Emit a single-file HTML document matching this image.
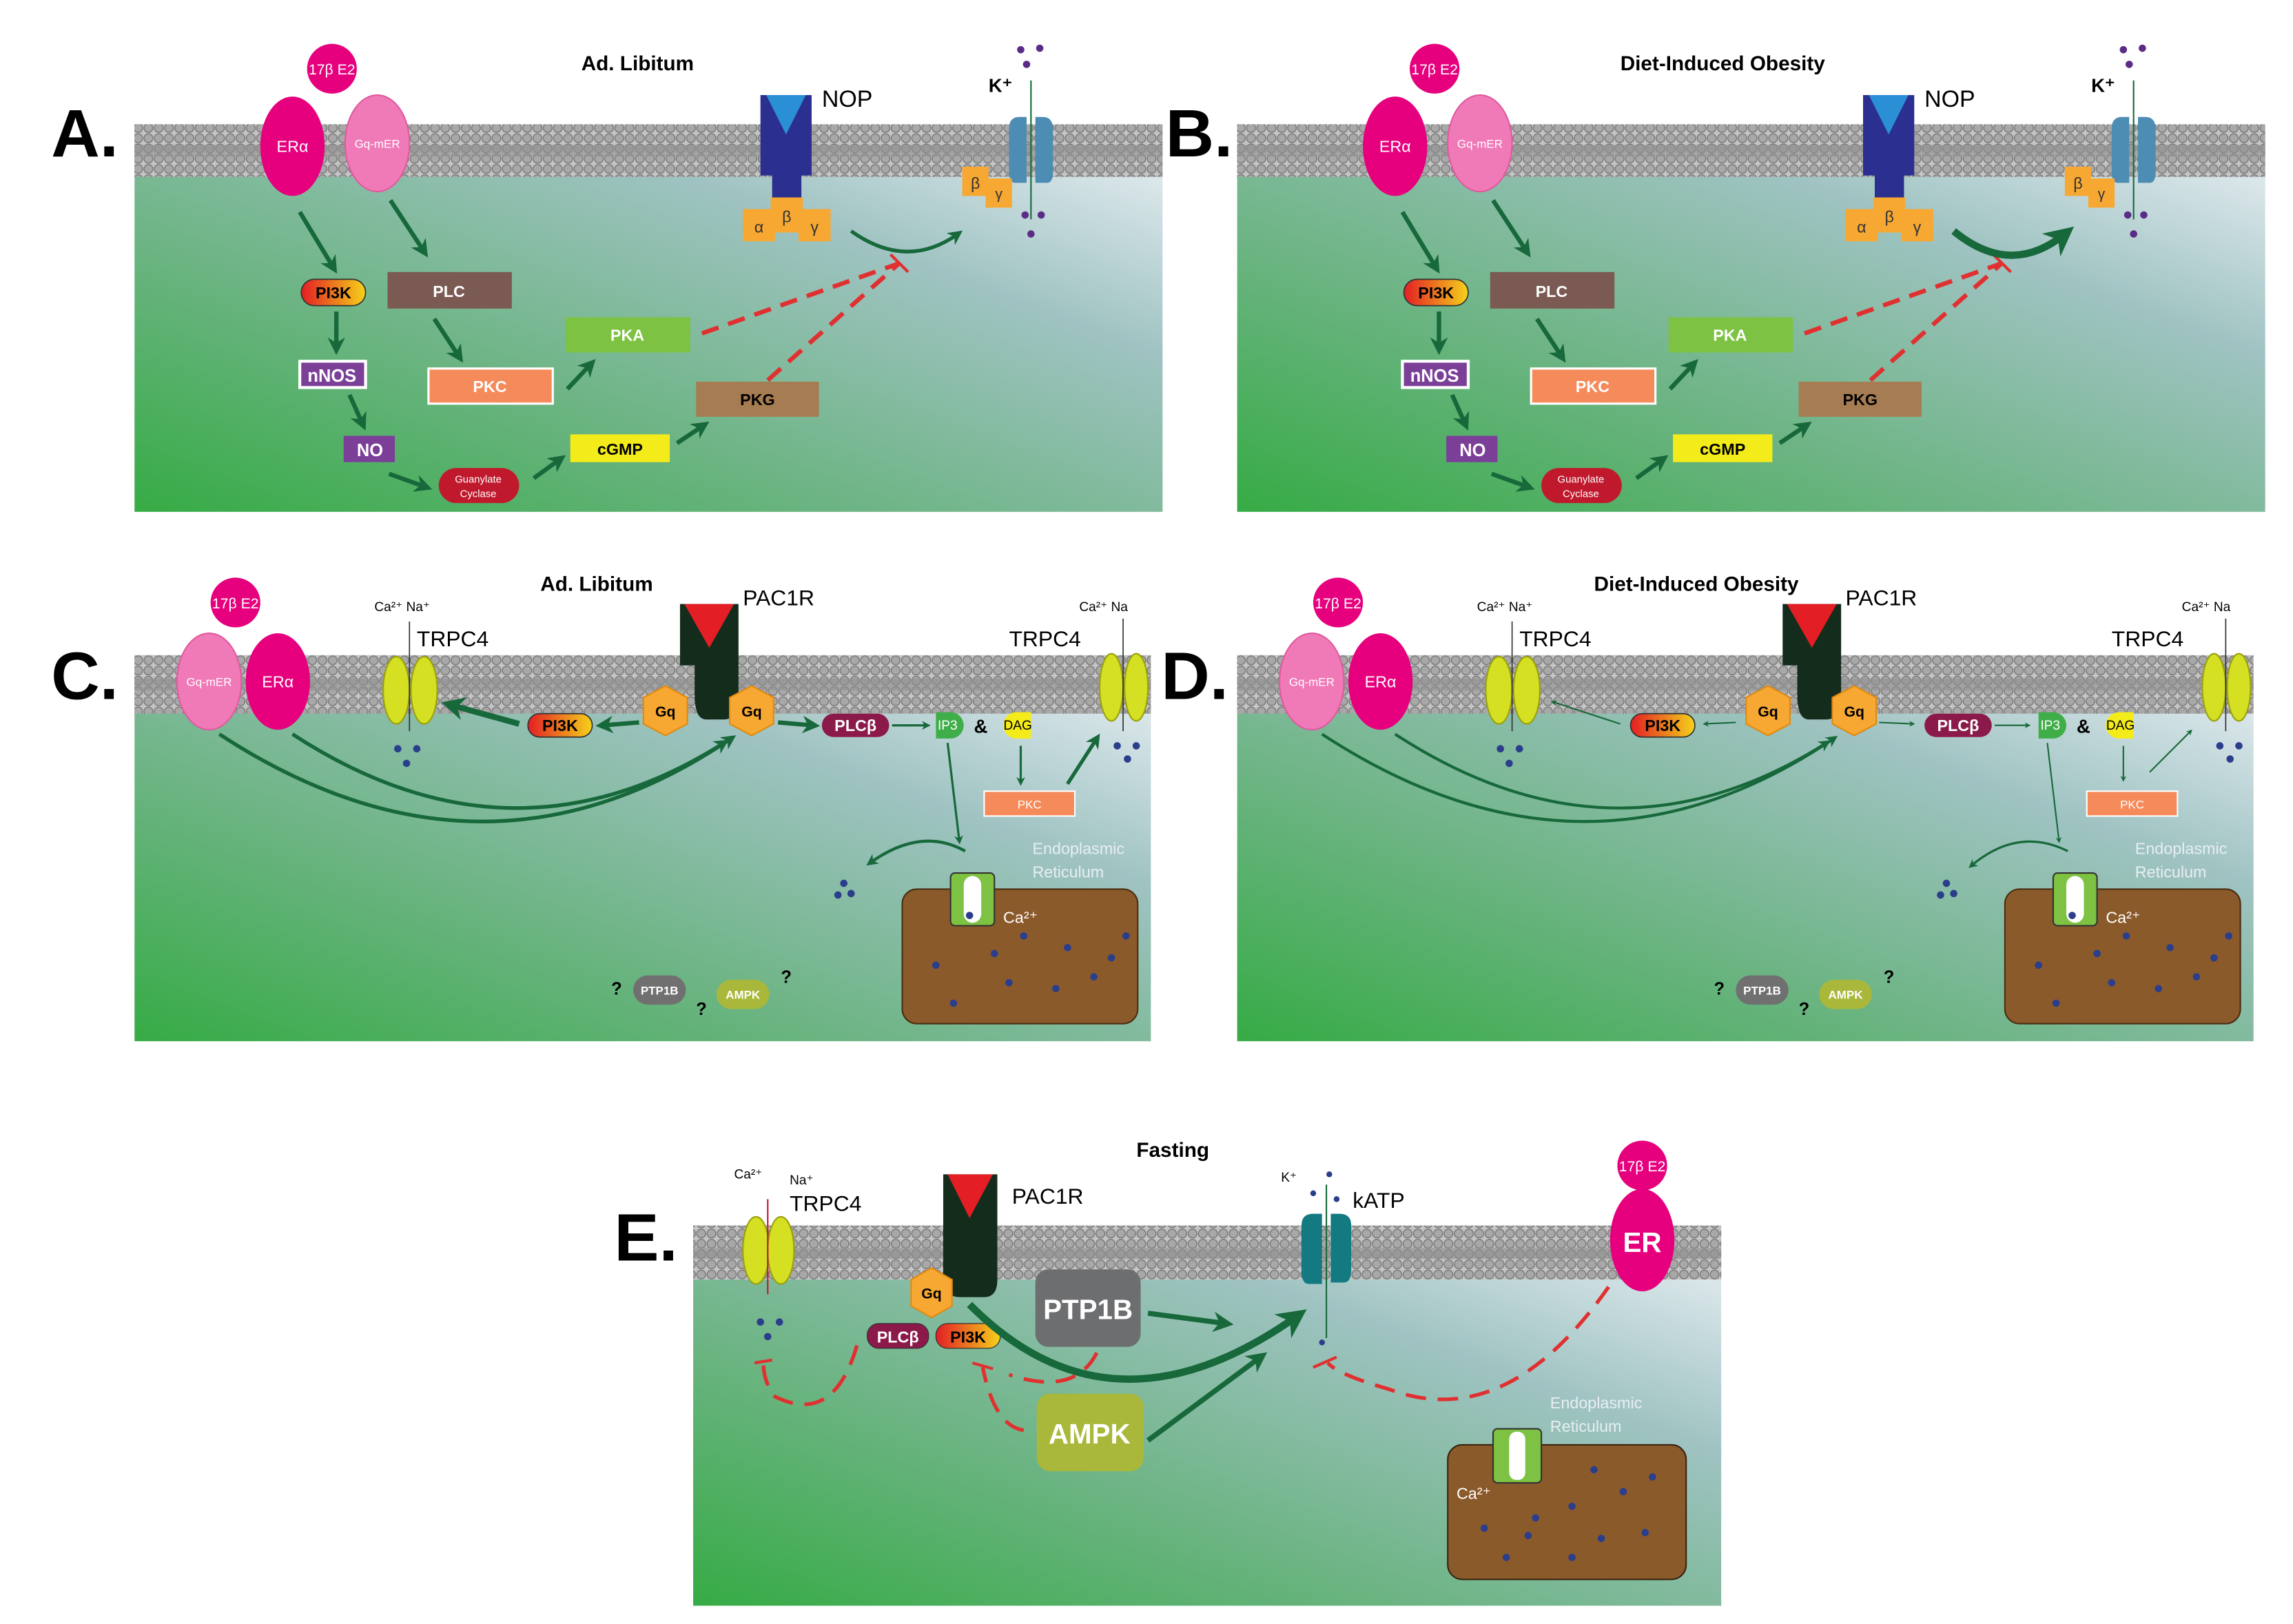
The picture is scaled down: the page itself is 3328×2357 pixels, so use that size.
<!DOCTYPE html>
<html><head><meta charset="utf-8"><style>
html,body{margin:0;padding:0;background:#fff;}
svg{display:block;}
text{font-family:"Liberation Sans",sans-serif;}
</style></head><body>
<svg xmlns="http://www.w3.org/2000/svg" width="3328" height="2357" viewBox="0 0 1568 1110.5">
<defs>
<linearGradient id="bg" x1="0" y1="1" x2="1" y2="0">
<stop offset="0" stop-color="#36ab45"/>
<stop offset="0.35" stop-color="#6cb483"/>
<stop offset="0.7" stop-color="#9fc3c2"/>
<stop offset="1" stop-color="#eef2f8"/>
</linearGradient>
<pattern id="mem" width="7" height="7" patternUnits="userSpaceOnUse">
<rect width="7" height="7" fill="#c4c4c4"/>
<circle cx="3.5" cy="3.5" r="3" fill="#a8a8a8" stroke="#7a7a7a" stroke-width="0.7"/>
</pattern>
<linearGradient id="pi3k" x1="0" y1="0" x2="1" y2="0">
<stop offset="0" stop-color="#e31e24"/><stop offset="1" stop-color="#f5d21a"/>
</linearGradient>
<marker id="ah" viewBox="0 0 10 10" refX="6" refY="5" markerWidth="4" markerHeight="4" orient="auto">
<path d="M0,0 L10,5 L0,10 L3,5 z" fill="#17683a"/>
</marker>
</defs>

<g id="pA">
<rect x="92" y="85" width="703" height="265" fill="url(#bg)"/>
<rect x="92" y="85" width="703" height="36" fill="url(#mem)"/>
<rect x="92" y="99" width="703" height="8" fill="#8f8f8f" opacity="0.6"/>
<circle cx="227" cy="47" r="17" fill="#e6007e"/>
<text x="227" y="51" font-size="10" fill="#fff" text-anchor="middle">17β E2</text>
<ellipse cx="200" cy="100" rx="22" ry="34" fill="#e6007e"/>
<text x="200" y="104" font-size="11" fill="#fff" text-anchor="middle">ERα</text>
<ellipse cx="258" cy="98" rx="22" ry="33" fill="#f07ab8" stroke="#e05a9e"/>
<text x="258" y="101" font-size="8" fill="#fff" text-anchor="middle">Gq-mER</text>
<rect x="520" y="65" width="35" height="55" fill="#2b2f8f"/>
<rect x="528" y="110" width="20" height="32" fill="#2b2f8f"/>
<path d="M524,65 L551,65 L537.5,92 z" fill="#2a8fd4"/>
<text x="562" y="73" font-size="16">NOP</text>
<rect x="508" y="143" width="22" height="22" fill="#f7a833"/>
<rect x="527" y="135" width="22" height="24" fill="#f7a833"/>
<rect x="546" y="143" width="22" height="22" fill="#f7a833"/>
<text x="519" y="159" font-size="11" text-anchor="middle" fill="#333">α</text>
<text x="538" y="152" font-size="11" text-anchor="middle" fill="#333">β</text>
<text x="557" y="159" font-size="11" text-anchor="middle" fill="#333">γ</text>
<text x="676" y="63" font-size="13" font-weight="bold">K⁺</text>
<path d="M690,88 q0,-8 7,-8 h5 v45 h-8 q-4,0 -4,-8z M708,80 h5 q7,0 7,8 v30 q0,7 -4,7 h-8z" fill="#4d8db3"/>
<line x1="705" y1="55" x2="705" y2="150" stroke="#17683a" stroke-width="1"/>
<rect x="658" y="114" width="18" height="20" fill="#f7a833"/>
<rect x="674" y="122" width="18" height="20" fill="#f7a833"/>
<text x="667" y="129" font-size="11" text-anchor="middle" fill="#333">β</text>
<text x="683" y="136" font-size="10" text-anchor="middle" fill="#333">γ</text>
<g fill="#5b2c86"><circle cx="698" cy="34" r="2.5"/><circle cx="711" cy="33" r="2.5"/><circle cx="702" cy="44" r="2.5"/>
<circle cx="701" cy="147" r="2.5"/><circle cx="712" cy="147" r="2.5"/><circle cx="705" cy="160" r="2.5"/></g>
<rect x="206" y="191" width="44" height="18" rx="9" fill="url(#pi3k)" stroke="#333" stroke-width="0.8"/>
<text x="228" y="204" font-size="11" text-anchor="middle" font-weight="bold">PI3K</text>
<rect x="265" y="186" width="85" height="25" fill="#7a5a52"/>
<text x="307" y="203" font-size="11" text-anchor="middle" fill="#fff" font-weight="bold">PLC</text>
<rect x="205" y="247" width="45" height="18" fill="#7b3f98" stroke="#fff" stroke-width="2"/>
<text x="227" y="261" font-size="12" text-anchor="middle" fill="#fff" font-weight="bold">nNOS</text>
<rect x="293" y="252" width="85" height="24" fill="#f58a5a" stroke="#fff" stroke-width="1.5"/>
<text x="335" y="268" font-size="11" text-anchor="middle" fill="#fff" font-weight="bold">PKC</text>
<rect x="387" y="217" width="85" height="24" fill="#7dc242"/>
<text x="429" y="233" font-size="11" text-anchor="middle" fill="#fff" font-weight="bold">PKA</text>
<rect x="235" y="298" width="35" height="18" fill="#7b3f98"/>
<text x="253" y="312" font-size="12" text-anchor="middle" fill="#fff" font-weight="bold">NO</text>
<rect x="300" y="320" width="55" height="24" rx="12" fill="#c0192d"/>
<text x="327" y="330" font-size="7" text-anchor="middle" fill="#fff">Guanylate</text>
<text x="327" y="340" font-size="7" text-anchor="middle" fill="#fff">Cyclase</text>
<rect x="390" y="297" width="68" height="19" fill="#f4ec1a"/>
<text x="424" y="311" font-size="11" text-anchor="middle" font-weight="bold">cGMP</text>
<rect x="476" y="261" width="84" height="24" fill="#a67c52"/>
<text x="518" y="277" font-size="11" text-anchor="middle" font-weight="bold">PKG</text>
<g stroke="#17683a" stroke-width="3" fill="none" marker-end="url(#ah)">
<line x1="205" y1="145" x2="228" y2="183"/>
<line x1="267" y1="137" x2="290" y2="172"/>
<line x1="230" y1="213" x2="230" y2="238"/>
<line x1="297" y1="218" x2="314" y2="244"/>
<line x1="239" y1="270" x2="248" y2="290"/>
<line x1="388" y1="266" x2="404" y2="249"/>
<line x1="266" y1="324" x2="291" y2="333"/>
<line x1="365" y1="327" x2="383" y2="314"/>
<line x1="463" y1="303" x2="481" y2="291"/>
</g>
<g stroke="#e03030" stroke-width="3" stroke-dasharray="12,7" fill="none">
<line x1="480" y1="228" x2="615" y2="180"/>
<line x1="525" y1="260" x2="615" y2="180"/>
</g>
<line x1="609" y1="174" x2="621" y2="186" stroke="#e03030" stroke-width="2"/>
</g>
<path d="M582,158 Q620,185 655,160" stroke="#17683a" stroke-width="2.5" fill="none" marker-end="url(#ah)"/>
<text x="35" y="107" font-size="46" font-weight="bold">A.</text>
<text x="436" y="48" font-size="14" font-weight="bold" text-anchor="middle">Ad. Libitum</text>

<use href="#pA" x="754" y="0"/>
<path d="M1336,158 Q1375,190 1412,160" stroke="#17683a" stroke-width="5" fill="none" marker-end="url(#ah)"/>
<text x="797" y="107" font-size="46" font-weight="bold">B.</text>
<text x="1178" y="48" font-size="14" font-weight="bold" text-anchor="middle">Diet-Induced Obesity</text>

<g id="pC">
<rect x="92" y="448" width="695" height="264" fill="url(#bg)"/>
<rect x="92" y="448" width="695" height="40" fill="url(#mem)"/>
<rect x="92" y="464" width="695" height="8" fill="#8f8f8f" opacity="0.6"/>
<circle cx="161" cy="412" r="17" fill="#e6007e"/>
<text x="161" y="416" font-size="10" fill="#fff" text-anchor="middle">17β E2</text>
<ellipse cx="143" cy="466" rx="22" ry="33" fill="#f07ab8" stroke="#e05a9e"/>
<text x="143" y="469" font-size="8" fill="#fff" text-anchor="middle">Gq-mER</text>
<ellipse cx="190" cy="466" rx="22" ry="33" fill="#e6007e"/>
<text x="190" y="470" font-size="11" fill="#fff" text-anchor="middle">ERα</text>
<ellipse cx="271" cy="472" rx="9" ry="23" fill="#d4e021" stroke="#9aa010"/>
<ellipse cx="290" cy="472" rx="9" ry="23" fill="#d4e021" stroke="#9aa010"/>
<line x1="280" y1="425" x2="280" y2="500" stroke="#333" stroke-width="0.8"/>
<text x="256" y="418" font-size="9">Ca²⁺ Na⁺</text>
<text x="285" y="442" font-size="15">TRPC4</text>
<g fill="#2a3e8c"><circle cx="272" cy="512" r="2.5"/><circle cx="285" cy="512" r="2.5"/><circle cx="278" cy="522" r="2.5"/></g>
<path d="M465,413 h40 v62 q0,17 -10,17 h-12 q-8,0 -8,-17 v-20 h-10z" fill="#142c1c"/>
<path d="M468,413 L502,413 L485,443 z" fill="#e31e24"/>
<text x="508" y="414" font-size="15">PAC1R</text>
<polygon points="455,469 470,477 470,495 455,503 440,495 440,477" fill="#f7a833" stroke="#e08a10"/>
<text x="455" y="490" font-size="10" text-anchor="middle" font-weight="bold">Gq</text>
<polygon points="514,469 529,477 529,495 514,503 499,495 499,477" fill="#f7a833" stroke="#e08a10"/>
<text x="514" y="490" font-size="10" text-anchor="middle" font-weight="bold">Gq</text>
<rect x="361" y="488" width="44" height="16" rx="8" fill="url(#pi3k)" stroke="#333" stroke-width="0.8"/>
<text x="383" y="500" font-size="11" text-anchor="middle" font-weight="bold">PI3K</text>
<rect x="562" y="488" width="46" height="16" rx="8" fill="#8b1a4a"/>
<text x="585" y="500" font-size="11" text-anchor="middle" fill="#fff" font-weight="bold">PLCβ</text>
<path d="M640,487 h10 a9,9 0 0 1 0,18 h-10z" fill="#3fae49"/>
<text x="648" y="499" font-size="9" fill="#fff" text-anchor="middle">IP3</text>
<text x="666" y="501" font-size="13" font-weight="bold">&amp;</text>
<path d="M705,487 h-10 a9,9 0 0 0 0,18 h10z" fill="#f4ec1a"/>
<text x="696" y="499" font-size="9" text-anchor="middle">DAG</text>
<rect x="673" y="541" width="62" height="17" fill="#f58a5a" stroke="#fff"/>
<text x="704" y="553" font-size="8" fill="#fff" text-anchor="middle">PKC</text>
<ellipse cx="760" cy="470" rx="8" ry="23" fill="#d4e021" stroke="#9aa010"/>
<ellipse cx="777" cy="470" rx="8" ry="23" fill="#d4e021" stroke="#9aa010"/>
<line x1="768" y1="423" x2="768" y2="500" stroke="#333" stroke-width="0.8"/>
<text x="738" y="418" font-size="9">Ca²⁺  Na</text>
<text x="690" y="442" font-size="15">TRPC4</text>
<g fill="#2a3e8c"><circle cx="764" cy="510" r="2.5"/><circle cx="777" cy="510" r="2.5"/><circle cx="771" cy="519" r="2.5"/></g>
<rect x="617" y="608" width="161" height="92" rx="10" fill="#8b5a2b" stroke="#4a2e12"/>
<rect x="650" y="597" width="30" height="36" rx="3" fill="#7dc242" stroke="#333"/>
<rect x="659" y="599" width="12" height="32" rx="6" fill="#fff"/>
<circle cx="663" cy="626" r="2.5" fill="#2a3e8c"/>
<text x="686" y="631" font-size="11" fill="#fff">Ca²⁺</text>
<text x="706" y="584" font-size="11" fill="#e8eef2">Endoplasmic</text>
<text x="706" y="600" font-size="11" fill="#e8eef2">Reticulum</text>
<g fill="#2a3e8c"><circle cx="640" cy="660" r="2.5"/><circle cx="680" cy="652" r="2.5"/><circle cx="700" cy="640" r="2.5"/><circle cx="730" cy="648" r="2.5"/><circle cx="760" cy="655" r="2.5"/><circle cx="652" cy="686" r="2.5"/><circle cx="690" cy="672" r="2.5"/><circle cx="722" cy="676" r="2.5"/><circle cx="748" cy="668" r="2.5"/><circle cx="770" cy="640" r="2.5"/></g>
<g fill="#2a3e8c"><circle cx="577" cy="604" r="2.5"/><circle cx="582" cy="611" r="2.5"/><circle cx="573" cy="612" r="2.5"/></g>
<rect x="433" y="667" width="36" height="20" rx="10" fill="#707070"/>
<text x="451" y="680" font-size="8" fill="#fff" text-anchor="middle" font-weight="bold">PTP1B</text>
<rect x="490" y="670" width="36" height="20" rx="10" fill="#a9b83a"/>
<text x="508" y="683" font-size="8" fill="#fff" text-anchor="middle" font-weight="bold">AMPK</text>
<text x="418" y="680" font-size="12" font-weight="bold">?</text>
<text x="476" y="694" font-size="12" font-weight="bold">?</text>
<text x="534" y="672" font-size="12" font-weight="bold">?</text>
</g>
<g stroke="#17683a" fill="none" marker-end="url(#ah)">
<path d="M150,502 Q330,620 500,505" stroke-width="2.5"/>
<path d="M200,502 Q350,600 495,508" stroke-width="2.5"/>
<line x1="355" y1="495" x2="308" y2="482" stroke-width="4"/>
<line x1="437" y1="494" x2="412" y2="496" stroke-width="3"/>
<line x1="532" y1="494" x2="556" y2="496" stroke-width="3"/>
<line x1="610" y1="496" x2="634" y2="496" stroke-width="1.5"/>
<line x1="698" y1="510" x2="698" y2="535" stroke-width="1.5"/>
<line x1="730" y1="536" x2="750" y2="505" stroke-width="2.5"/>
<line x1="648" y1="508" x2="656" y2="575" stroke-width="1.5"/>
<path d="M660,582 Q630,565 595,590" stroke-width="2"/>
</g>
<text x="35" y="478" font-size="46" font-weight="bold">C.</text>
<text x="408" y="404" font-size="14" font-weight="bold" text-anchor="middle">Ad. Libitum</text>

<use href="#pC" x="754" y="0"/>
<g stroke="#17683a" fill="none" marker-end="url(#ah)">
<path d="M904,502 Q1084,620 1254,505" stroke-width="2"/>
<path d="M954,502 Q1104,600 1249,508" stroke-width="2"/>
<line x1="1108" y1="495" x2="1062" y2="480" stroke-width="1"/>
<line x1="1187" y1="494" x2="1166" y2="495" stroke-width="1"/>
<line x1="1285" y1="494" x2="1308" y2="495" stroke-width="1"/>
<line x1="1364" y1="496" x2="1387" y2="496" stroke-width="1"/>
<line x1="1452" y1="510" x2="1452" y2="533" stroke-width="1"/>
<line x1="1470" y1="528" x2="1498" y2="500" stroke-width="1"/>
<line x1="1400" y1="508" x2="1408" y2="575" stroke-width="1"/>
<path d="M1414,582 Q1380,565 1348,592" stroke-width="1.5"/>
</g>
<text x="794" y="478" font-size="46" font-weight="bold">D.</text>
<text x="1160" y="404" font-size="14" font-weight="bold" text-anchor="middle">Diet-Induced Obesity</text>

<rect x="474" y="838" width="703" height="260" fill="url(#bg)"/>
<rect x="474" y="838" width="703" height="37" fill="url(#mem)"/>
<rect x="474" y="853" width="703" height="8" fill="#8f8f8f" opacity="0.6"/>
<text x="420" y="862" font-size="46" font-weight="bold">E.</text>
<text x="802" y="791" font-size="14" font-weight="bold" text-anchor="middle">Fasting</text>
<ellipse cx="517" cy="855" rx="9" ry="23" fill="#d4e021" stroke="#9aa010"/>
<ellipse cx="534" cy="855" rx="9" ry="23" fill="#d4e021" stroke="#9aa010"/>
<line x1="525" y1="820" x2="525" y2="885" stroke="#c0192d" stroke-width="1"/>
<text x="502" y="806" font-size="9">Ca²⁺</text>
<text x="540" y="810" font-size="9">Na⁺</text>
<text x="540" y="828" font-size="15">TRPC4</text>
<g fill="#2a3e8c"><circle cx="520" cy="904" r="2.5"/><circle cx="533" cy="904" r="2.5"/><circle cx="525" cy="914" r="2.5"/></g>
<path d="M645,803 h37 v72 q0,12 -9,12 h-16 q-12,0 -12,-12 v-20z" fill="#142c1c"/>
<path d="M648,803 L679,803 L663,833 z" fill="#e31e24"/>
<text x="692" y="823" font-size="15">PAC1R</text>
<polygon points="637,867 651,875 651,893 637,901 623,893 623,875" fill="#f7a833" stroke="#e08a10"/>
<text x="637" y="888" font-size="10" text-anchor="middle" font-weight="bold">Gq</text>
<rect x="593" y="905" width="42" height="17" rx="8" fill="#8b1a4a" stroke="#333" stroke-width="0.6"/>
<text x="614" y="918" font-size="11" text-anchor="middle" fill="#fff" font-weight="bold">PLCβ</text>
<rect x="640" y="905" width="44" height="17" rx="8" fill="url(#pi3k)" stroke="#333" stroke-width="0.6"/>
<text x="662" y="918" font-size="11" text-anchor="middle" font-weight="bold">PI3K</text>
<rect x="708" y="868" width="72" height="53" rx="9" fill="#6d6e70"/>
<text x="744" y="902" font-size="19" fill="#fff" text-anchor="middle" font-weight="bold">PTP1B</text>
<rect x="709" y="953" width="73" height="53" rx="9" fill="#a9b83a"/>
<text x="745" y="987" font-size="19" fill="#fff" text-anchor="middle" font-weight="bold">AMPK</text>
<path d="M890,838 q0,-8 8,-8 h6 v48 h-9 q-5,0 -5,-9z M910,830 h6 q8,0 8,8 v30 q0,9 -5,9 h-9z" fill="#127a80"/>
<line x1="907" y1="810" x2="907" y2="915" stroke="#17683a" stroke-width="1"/>
<text x="876" y="808" font-size="9">K⁺</text>
<text x="925" y="826" font-size="15">kATP</text>
<g fill="#2a3e8c"><circle cx="909" cy="803" r="2"/><circle cx="898" cy="816" r="2"/><circle cx="914" cy="820" r="2"/><circle cx="904" cy="918" r="2"/></g>
<circle cx="1123" cy="797" r="17" fill="#e6007e"/>
<text x="1123" y="801" font-size="10" fill="#fff" text-anchor="middle">17β E2</text>
<ellipse cx="1123" cy="848" rx="22" ry="35" fill="#e6007e"/>
<text x="1123" y="856" font-size="19" fill="#fff" text-anchor="middle" font-weight="bold">ER</text>
<rect x="990" y="988" width="163" height="92" rx="10" fill="#8b5a2b" stroke="#3a2410"/>
<rect x="1021" y="977" width="33" height="37" rx="3" fill="#7dc242" stroke="#333"/>
<rect x="1032" y="979" width="11" height="33" rx="5" fill="#fff"/>
<text x="996" y="1025" font-size="11" fill="#fff">Ca²⁺</text>
<text x="1060" y="963" font-size="11" fill="#e8eef2">Endoplasmic</text>
<text x="1060" y="979" font-size="11" fill="#e8eef2">Reticulum</text>
<g fill="#2a3e8c"><circle cx="1090" cy="1005" r="2.5"/><circle cx="1110" cy="1020" r="2.5"/><circle cx="1130" cy="1010" r="2.5"/><circle cx="1075" cy="1030" r="2.5"/><circle cx="1050" cy="1038" r="2.5"/><circle cx="1015" cy="1045" r="2.5"/><circle cx="1045" cy="1050" r="2.5"/><circle cx="1095" cy="1052" r="2.5"/><circle cx="1125" cy="1048" r="2.5"/><circle cx="1030" cy="1065" r="2.5"/><circle cx="1075" cy="1065" r="2.5"/></g>
<g stroke="#17683a" fill="none" marker-end="url(#ah)">
<path d="M663,892 Q760,990 887,900" stroke-width="5"/>
<line x1="785" y1="898" x2="838" y2="905" stroke-width="3.5"/>
<line x1="785" y1="985" x2="862" y2="928" stroke-width="3.5"/>
</g>
<g stroke="#e03030" stroke-width="2.5" fill="none" stroke-dasharray="14,8">
<path d="M586,920 Q570,975 530,955 Q522,945 522,932"/>
<path d="M750,925 Q735,955 690,940"/>
<path d="M700,978 Q680,975 672,935"/>
<path d="M1100,880 Q1030,980 950,950 Q915,940 908,932"/>
</g>
<g stroke="#e03030" stroke-width="2">
<line x1="516" y1="932" x2="528" y2="930"/>
<line x1="665" y1="932" x2="679" y2="936"/>
<line x1="898" y1="935" x2="914" y2="928"/>
</g>
</svg>
</body></html>
